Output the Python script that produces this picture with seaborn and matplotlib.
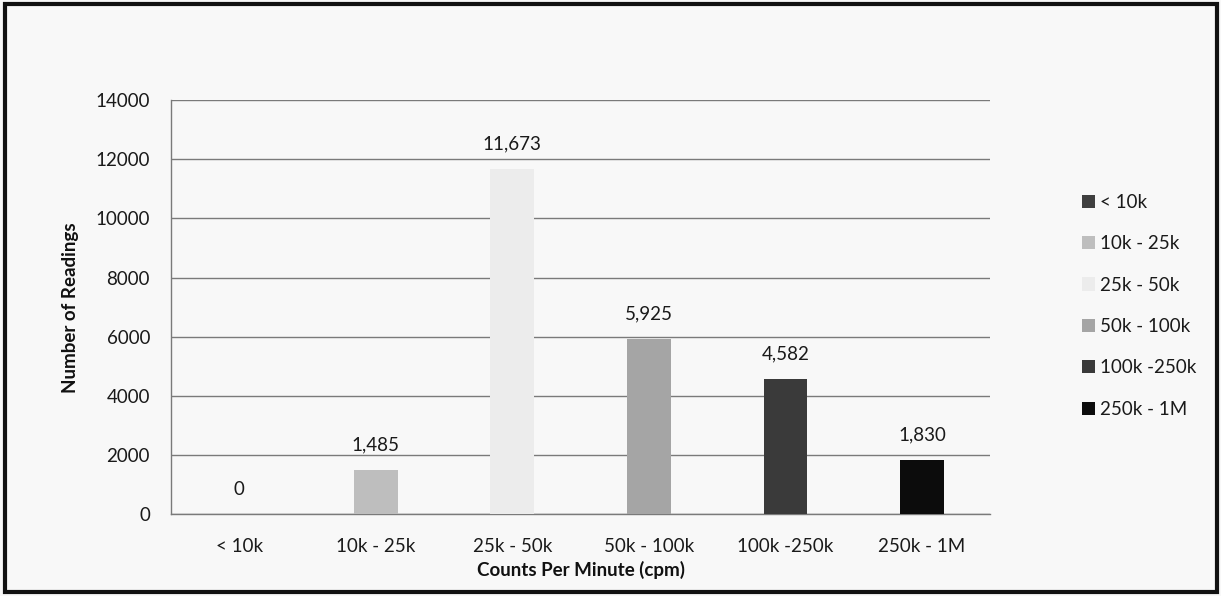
import matplotlib
matplotlib.use("Agg")
import matplotlib.pyplot as plt
from matplotlib.patches import Rectangle, Patch
import seaborn as sns
import pandas as pd

categories = ["< 10k", "10k - 25k", "25k - 50k", "50k - 100k", "100k -250k", "250k - 1M"]
readings = [0, 1485, 11673, 5925, 4582, 1830]
colors = ["#3f3f3f", "#bebebe", "#ececec", "#a5a5a5", "#3a3a3a", "#0c0c0c"]
y_ticks = [0, 2000, 4000, 6000, 8000, 10000, 12000, 14000]

df = pd.DataFrame({"range": categories, "count": readings})

sns.set_theme(style="white")
plt.rcParams["font.family"] = ["Lato", "DejaVu Sans"]

bg = "#f8f8f8"
fig = plt.figure(figsize=(12.21, 5.96), dpi=100, facecolor=bg)
ax = fig.add_axes([0.140, 0.137, 0.671, 0.695], facecolor=bg)

sns.barplot(data=df, x="range", y="count", hue="range", palette=colors,
            width=0.32, legend=False, ax=ax, zorder=3, saturation=1, linewidth=0)

ax.set_ylim(0, 14000)
ax.set_yticks(y_ticks)
ax.set_yticklabels([str(t) for t in y_ticks], fontsize=13.5, color="#1a1a1a")
ax.tick_params(axis="x", labelsize=13.5, colors="#1a1a1a", length=0, pad=17)
ax.tick_params(axis="y", length=0, pad=15)
ax.yaxis.grid(True, color="#7a7a7a", linewidth=1.0, zorder=0)
ax.set_axisbelow(True)

for side in ["top", "right"]:
    ax.spines[side].set_visible(False)
for side in ["left", "bottom"]:
    ax.spines[side].set_color("#7a7a7a")
    ax.spines[side].set_linewidth(1.0)

for i, v in enumerate(readings):
    ax.text(i, v + 560, f"{v:,}", ha="center", va="bottom", fontsize=13.5, color="#1a1a1a")

ax.set_xlabel("Counts Per Minute (cpm)", fontsize=13.5, fontweight="bold", color="#111111", labelpad=4)
ax.set_ylabel("Number of Readings", fontsize=13.5, fontweight="bold", color="#111111", labelpad=12)

handles = [Patch(facecolor=c, edgecolor="none") for c in colors]
fig.legend(handles, categories, loc="center left", bbox_to_anchor=(0.872, 0.487),
           frameon=False, fontsize=13.5, handlelength=0.7, handleheight=0.7,
           handletextpad=0.3, labelspacing=1.3, labelcolor="#1a1a1a")

fig.patches.append(Rectangle((0.004, 0.006), 0.993, 0.987, transform=fig.transFigure,
                             fill=False, edgecolor="#111111", linewidth=3))

fig.savefig("out.png", dpi=100, facecolor=bg)
